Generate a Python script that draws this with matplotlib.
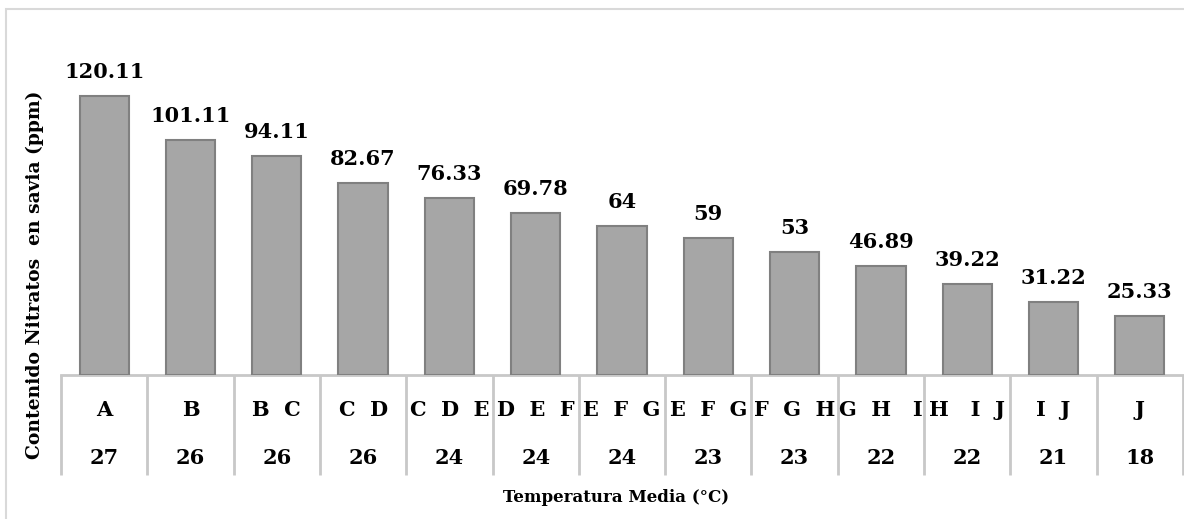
import matplotlib
matplotlib.use("Agg")
from matplotlib import pyplot as plt
from matplotlib.patches import Rectangle

# nitrate content per treatment, with significance letters and mean temperature
nitratos = [120.11, 101.11, 94.11, 82.67, 76.33, 69.78, 64, 59, 53, 46.89, 39.22, 31.22, 25.33]
letras = ["A", "B", "B  C", "C  D", "C  D  E", "D  E  F", "E  F  G", "E  F  G",
          "F  G  H", "G  H   I", "H   I  J", "I  J", "J"]
temperatura = ["27", "26", "26", "26", "24", "24", "24", "23", "23", "22", "22", "21", "18"]
etiquetas = ["120.11", "101.11", "94.11", "82.67", "76.33", "69.78", "64", "59", "53",
             "46.89", "39.22", "31.22", "25.33"]

plt.rcParams['font.family'] = ['DejaVu Serif']
plt.rcParams['font.weight'] = 'bold'

fig = plt.figure(figsize=(11.84, 5.19), dpi=100)
# light frame round the chart area
fig.patches.append(Rectangle((6 / 1184, -0.1), 1.2, 1 - 8.5 / 519 + 0.1, transform=fig.transFigure,
                             fill=False, edgecolor='#d9d9d9', linewidth=1.5))

ax = fig.add_axes([61 / 1184, 1 - 375 / 519, (1183 - 61) / 1184, 337 / 519])
x = list(range(len(nitratos)))
ax.bar(x, nitratos, width=0.57, color='#a6a6a6', edgecolor='#808080', linewidth=1.5, zorder=3)
ax.set_xlim(-0.5, len(nitratos) - 0.5)
ax.set_ylim(0, 145)

for s in ['top', 'right', 'left']:
    ax.spines[s].set_visible(False)
ax.spines['bottom'].set_color('#c8c8c8')
ax.spines['bottom'].set_linewidth(2)
ax.set_yticks([])
ax.set_xticks([])

# category separators hanging below the axis
ax.set_xticks([i - 0.5 for i in range(len(nitratos) + 1)], minor=True)
ax.tick_params(axis='x', which='minor', length=72, width=2, color='#c8c8c8', direction='out')

for i, v in enumerate(nitratos):
    ax.annotate(etiquetas[i], (i, v), xytext=(0, 13), textcoords='offset points',
                ha='center', va='baseline', fontsize=15, fontweight='bold')
    ax.annotate(letras[i], (i, 0), xycoords=('data', 'axes fraction'), xytext=(0, -25),
                textcoords='offset points', ha='center', va='center', fontsize=15, fontweight='bold')
    ax.annotate(temperatura[i], (i, 0), xycoords=('data', 'axes fraction'), xytext=(0, -60),
                textcoords='offset points', ha='center', va='center', fontsize=15, fontweight='bold')

fig.text(616 / 1184, 1 - 498 / 519, "Temperatura Media (°C)", ha='center', va='center',
         fontsize=12, fontweight='bold')
fig.text(35 / 1184, 1 - 275 / 519, "Contenido Nitratos  en savia (ppm)", ha='center', va='center',
         rotation=90, fontsize=13.5, fontweight='bold')

fig.savefig("out.png", dpi=100)
